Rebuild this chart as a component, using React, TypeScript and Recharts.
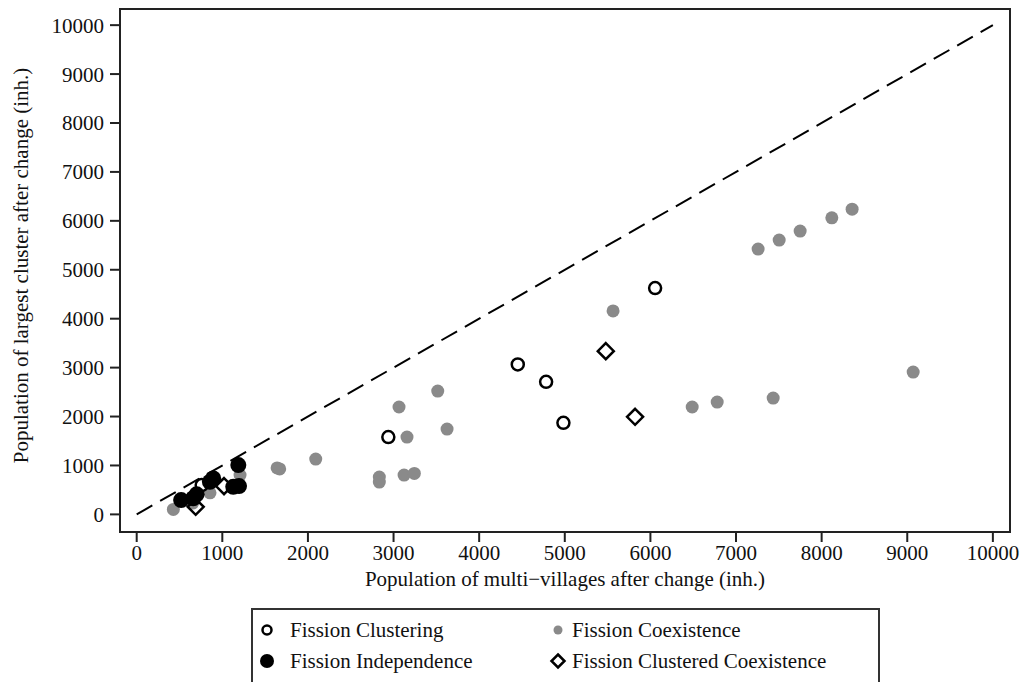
import React from "react";
import { ScatterChart, Scatter, XAxis, YAxis, ReferenceLine, ReferenceArea, Legend, Label } from "recharts";

const FONT = '"Liberation Serif", "Times New Roman", serif';

// axis ranges and tick labels
const xDomain = [-195, 10200];
const yDomain = [-360, 10330];
const axisTicks = [0, 1000, 2000, 3000, 4000, 5000, 6000, 7000, 8000, 9000, 10000];

// series
const fissionClustering = [
    { x: 759, y: 599 },
    { x: 2939, y: 1580 },
    { x: 4451, y: 3066 },
    { x: 4782, y: 2710 },
    { x: 4984, y: 1872 },
    { x: 6055, y: 4625 },
];

const fissionCoexistence = [
    { x: 428, y: 102 },
    { x: 654, y: 231 },
    { x: 856, y: 441 },
    { x: 1207, y: 803 },
    { x: 1640, y: 950 },
    { x: 1670, y: 930 },
    { x: 2091, y: 1130 },
    { x: 2834, y: 762 },
    { x: 2834, y: 660 },
    { x: 3064, y: 2195 },
    { x: 3123, y: 803 },
    { x: 3157, y: 1580 },
    { x: 3243, y: 838 },
    { x: 3516, y: 2520 },
    { x: 3625, y: 1743 },
    { x: 5564, y: 4159 },
    { x: 6488, y: 2195 },
    { x: 6780, y: 2295 },
    { x: 7258, y: 5423 },
    { x: 7434, y: 2377 },
    { x: 7504, y: 5606 },
    { x: 7749, y: 5790 },
    { x: 8119, y: 6062 },
    { x: 8356, y: 6239 },
    { x: 9069, y: 2909 },
];

const fissionIndependence = [
    { x: 519, y: 292 },
    { x: 660, y: 330 },
    { x: 700, y: 410 },
    { x: 855, y: 666 },
    { x: 894, y: 736 },
    { x: 1128, y: 564 },
    { x: 1195, y: 578 },
    { x: 1187, y: 1008 },
];

const fissionClusteredCoexistence = [
    { x: 689, y: 155 },
    { x: 1020, y: 578 },
    { x: 5479, y: 3337 },
    { x: 5821, y: 1995 },
];

const diagonal = [{ x: 0, y: 0 }, { x: 10000, y: 10000 }];

const OpenCircle = (p: any) => (
    <circle cx={p.cx} cy={p.cy} r={p.r ?? 6} fill="none" stroke="#000" strokeWidth={2.5} />
);
const GreyDot = (p: any) => <circle cx={p.cx} cy={p.cy} r={p.r ?? 6.5} fill="#8a8a8a" />;
const BlackDot = (p: any) => <circle cx={p.cx} cy={p.cy} r={p.r ?? 8} fill="#000" />;
const Diamond = (p: any) => {
    const d = p.r ?? 8;
    return (
        <path
            d={`M${p.cx},${p.cy - d}L${p.cx + d},${p.cy}L${p.cx},${p.cy + d}L${p.cx - d},${p.cy}Z`}
            fill="none"
            stroke="#000"
            strokeWidth={2.5}
        />
    );
};

// legend layout: [icon x, text x, row y] inside the box
const legendItems = [
    { name: "Fission Clustering", Icon: OpenCircle, r: 4.5, col: 0, row: 0 },
    { name: "Fission Coexistence", Icon: GreyDot, r: 4.5, col: 1, row: 0 },
    { name: "Fission Independence", Icon: BlackDot, r: 7, col: 0, row: 1 },
    { name: "Fission Clustered Coexistence", Icon: Diamond, r: 6.5, col: 1, row: 1 },
];
const legendIconX = [14, 305];
const legendTextX = [37, 319];
const legendRowY = [20, 51];

const LegendBox = () => (
    <div
        style={{
            position: "relative",
            width: 629,
            height: 90,
            boxSizing: "border-box",
            border: "2px solid #333",
            fontFamily: FONT,
            fontSize: 21,
            color: "#111",
        }}
    >
        {legendItems.map(({ name, Icon, r, col, row }) => (
            <React.Fragment key={name}>
                <svg width={20} height={20} style={{ position: "absolute", left: legendIconX[col] - 10, top: legendRowY[row] - 10 }}>
                    <Icon cx={10} cy={10} r={r} />
                </svg>
                <span style={{ position: "absolute", left: legendTextX[col], top: legendRowY[row] - 15, lineHeight: "30px", whiteSpace: "nowrap" }}>
                    {name}
                </span>
            </React.Fragment>
        ))}
    </div>
);

const XTitle = (props: any) => {
    const { x, y, width } = props.viewBox;
    return (
        <text x={x + width / 2} y={y + 47} textAnchor="middle" dominantBaseline="central" fontFamily={FONT} fontSize={21} fill="#111">
            Population of multi−villages after change (inh.)
        </text>
    );
};

const YTitle = (props: any) => {
    const { y, height } = props.viewBox;
    const cy = y + height / 2 - 5;
    return (
        <text x={21} y={cy} transform={`rotate(-90, 21, ${cy})`} textAnchor="middle" dominantBaseline="central" fontFamily={FONT} fontSize={21} fill="#111">
            Population of largest cluster after change (inh.)
        </text>
    );
};

const tickStyle = { fontFamily: FONT, fontSize: 21, fill: "#111" };

export default function App() {
    return (
        <div style={{ position: "fixed", left: 0, top: 0, width: 1024, height: 682, overflow: "hidden", background: "#fff", fontFamily: FONT }}>
            <ScatterChart width={1024} height={682} margin={{ top: 9, right: 14, bottom: 0, left: 0 }}>
                <XAxis
                    type="number"
                    dataKey="x"
                    domain={xDomain}
                    ticks={axisTicks}
                    allowDataOverflow
                    height={150}
                    tickSize={10}
                    tickMargin={3}
                    tick={tickStyle}
                    tickLine={{ stroke: "#222", strokeWidth: 2 }}
                    axisLine={{ stroke: "#222", strokeWidth: 2 }}
                >
                    <Label content={XTitle} />
                </XAxis>
                <YAxis
                    type="number"
                    dataKey="y"
                    domain={yDomain}
                    ticks={axisTicks}
                    allowDataOverflow
                    width={120}
                    tickSize={10}
                    tickMargin={6}
                    tick={tickStyle}
                    tickLine={{ stroke: "#222", strokeWidth: 2 }}
                    axisLine={{ stroke: "#222", strokeWidth: 2 }}
                >
                    <Label content={YTitle} />
                </YAxis>
                <ReferenceArea x1={xDomain[0]} x2={xDomain[1]} y1={yDomain[0]} y2={yDomain[1]} fill="none" stroke="#222" strokeWidth={2} />
                <ReferenceLine segment={diagonal} stroke="#000" strokeWidth={2} strokeDasharray="18 9" />
                <Scatter name="Fission Coexistence" data={fissionCoexistence} shape={GreyDot} isAnimationActive={false} />
                <Scatter name="Fission Clustering" data={fissionClustering} shape={OpenCircle} isAnimationActive={false} />
                <Scatter name="Fission Clustered Coexistence" data={fissionClusteredCoexistence} shape={Diamond} isAnimationActive={false} />
                <Scatter name="Fission Independence" data={fissionIndependence} shape={BlackDot} isAnimationActive={false} />
                <Legend
                    layout="vertical"
                    align="center"
                    verticalAlign="middle"
                    content={LegendBox}
                    wrapperStyle={{ left: 251, top: 608, width: 629, height: 90 }}
                />
            </ScatterChart>
        </div>
    );
}
